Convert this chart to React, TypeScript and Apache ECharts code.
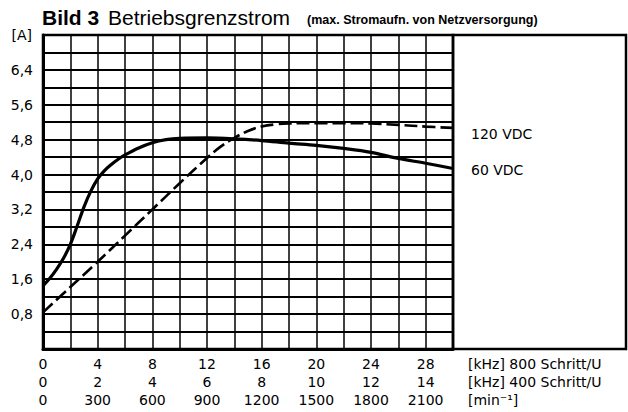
import React, { useEffect, useRef } from "react";
import * as echarts from "echarts";

// ---- data ----
const kHz60 = [0, 0.5, 1, 1.5, 2, 2.5, 3, 3.5, 4, 4.5, 5, 5.5, 6, 7, 8, 9, 10, 12, 14, 16, 18, 20, 22, 24, 26, 28, 30];
const amp60 = [1.45, 1.62, 1.83, 2.08, 2.4, 2.82, 3.26, 3.62, 3.9, 4.09, 4.23, 4.35, 4.45, 4.61, 4.73, 4.8, 4.83, 4.84, 4.82, 4.78, 4.72, 4.67, 4.6, 4.51, 4.37, 4.26, 4.14];

const kHz120 = [0, 2, 4, 6, 8, 10, 12, 13, 14, 15, 16, 17, 18, 20, 22, 24, 26, 28, 30];
const amp120 = [0.84, 1.42, 2.0, 2.6, 3.2, 3.8, 4.38, 4.64, 4.84, 5.0, 5.1, 5.15, 5.17, 5.18, 5.18, 5.17, 5.14, 5.1, 5.07];

const seriesNames = ["60 VDC", "120 VDC"];

const xRow1 = ["0", "4", "8", "12", "16", "20", "24", "28"];
const xRow2 = ["0", "2", "4", "6", "8", "10", "12", "14"];
const xRow3 = ["0", "300", "600", "900", "1200", "1500", "1800", "2100"];
const xUnitLabels = ["[kHz] 800 Schritt/U", "[kHz] 400 Schritt/U", "[min\u207B\u00B9]"];

const yTickLabels = ["0,8", "1,6", "2,4", "3,2", "4,0", "4,8", "5,6", "6,4"];
const yUnit = "[A]";

const titleBold = "Bild 3";
const titleMain = "Betriebsgrenzstrom";
const titleSub = "(max. Stromaufn. von Netzversorgung)";

// ---- layout ----
const W = 628;
const H = 412;
const GL = 43;
const GR = 453;
const GT = 35;
const GB = 349;
const FRAME_R = 626;
const LABEL_FONT = "DejaVu Sans";
const TITLE_FONT = "Liberation Sans, Arial, sans-serif";

export default function App() {
  const ref = useRef<HTMLDivElement>(null);

  useEffect(() => {
    if (!ref.current) return;
    const chart = echarts.init(ref.current, null, { renderer: "svg" });

    const xFormatter = (v: number) => {
      const r = Math.round(v);
      if (r % 4 !== 0) return "";
      const i = r / 4;
      if (i >= xRow1.length) return "";
      return `${xRow1[i]}\n${xRow2[i]}\n${xRow3[i]}`;
    };
    const yFormatter = (v: number) => {
      const i = Math.round(v / 0.4);
      if (i % 2 !== 0 || i <= 0 || i >= 18) return "";
      return yTickLabels[i / 2 - 1] ?? "";
    };

    chart.setOption({
      animation: false,
      backgroundColor: "#fff",
      grid: {
        left: GL,
        right: W - GR,
        top: GT,
        bottom: H - GB,
        show: true,
        borderColor: "#000",
        borderWidth: 2.5,
        backgroundColor: "transparent",
      },
      xAxis: {
        type: "value",
        min: 0,
        max: 30,
        interval: 2,
        axisLine: { show: true, onZero: false, lineStyle: { color: "#000", width: 3 } },
        axisTick: { show: false },
        splitLine: { show: true, lineStyle: { color: "#000", width: 1.5 } },
        axisLabel: {
          formatter: xFormatter,
          margin: 6,
          lineHeight: 18,
          fontFamily: LABEL_FONT,
          fontSize: 14,
          color: "#000",
        },
        name: xUnitLabels.join("\n"),
        nameLocation: "end",
        nameGap: 15,
        nameTextStyle: {
          align: "left",
          verticalAlign: "top",
          lineHeight: 18,
          padding: [6, 0, 0, 0],
          fontFamily: LABEL_FONT,
          fontSize: 14,
          color: "#000",
        },
      },
      yAxis: {
        type: "value",
        min: 0,
        max: 7.2,
        interval: 0.4,
        axisLine: { show: true, onZero: false, lineStyle: { color: "#000", width: 3 } },
        axisTick: { show: false },
        splitLine: { show: true, lineStyle: { color: "#000", width: 2 } },
        axisLabel: {
          formatter: yFormatter,
          margin: 10,
          fontFamily: LABEL_FONT,
          fontSize: 14,
          color: "#000",
        },
        name: yUnit,
        nameLocation: "end",
        nameGap: 0,
        nameTextStyle: {
          align: "right",
          verticalAlign: "middle",
          padding: [0, 11, 0, 0],
          fontFamily: LABEL_FONT,
          fontSize: 14,
          color: "#000",
        },
      },
      series: [
        {
          name: seriesNames[0],
          type: "line",
          data: kHz60.map((x, i) => [x, amp60[i]]),
          smooth: 0.35,
          symbol: "none",
          lineStyle: { color: "#000", width: 3.2 },
          endLabel: {
            show: true,
            formatter: "{a}",
            offset: [10, 1.5],
            fontFamily: LABEL_FONT,
            fontSize: 14,
            color: "#000",
          },
          z: 3,
        },
        {
          name: seriesNames[1],
          type: "line",
          data: kHz120.map((x, i) => [x, amp120[i]]),
          smooth: 0.4,
          symbol: "none",
          lineStyle: { color: "#000", width: 2.6, type: [13, 5] },
          endLabel: {
            show: true,
            formatter: "{a}",
            offset: [10, 6],
            fontFamily: LABEL_FONT,
            fontSize: 14,
            color: "#000",
          },
          z: 3,
        },
      ],
      graphic: [
        {
          type: "rect",
          shape: { x: GR, y: GT, width: FRAME_R - GR, height: GB - GT },
          style: { fill: "none", stroke: "#000", lineWidth: 2.5 },
          silent: true,
        },
        {
          type: "text",
          x: 42,
          y: 17.5,
          style: {
            text: titleBold,
            font: `bold 21px ${TITLE_FONT}`,
            fill: "#000",
            verticalAlign: "middle",
            align: "left",
          },
        },
        {
          type: "text",
          x: 108,
          y: 17.5,
          style: {
            text: titleMain,
            font: `21px ${TITLE_FONT}`,
            fill: "#000",
            verticalAlign: "middle",
            align: "left",
          },
        },
        {
          type: "text",
          x: 307,
          y: 20,
          style: {
            text: titleSub,
            font: `bold 12.5px ${TITLE_FONT}`,
            fill: "#000",
            verticalAlign: "middle",
            align: "left",
          },
        },
      ],
    });

    return () => chart.dispose();
  }, []);

  return (
    <div
      ref={ref}
      style={{ position: "fixed", left: 0, top: 0, width: W, height: H, background: "#fff" }}
    />
  );
}
